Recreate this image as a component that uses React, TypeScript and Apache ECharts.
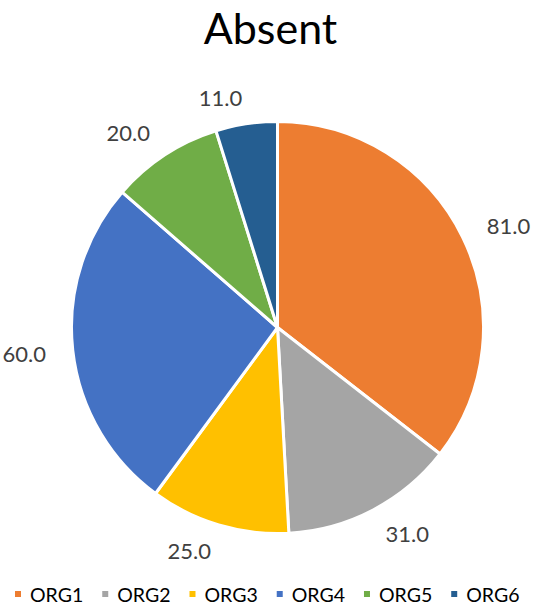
import React, { useEffect, useRef } from "react";
import * as echarts from "echarts";

const titleText = "Absent";
const categories = ["ORG1", "ORG2", "ORG3", "ORG4", "ORG5", "ORG6"];
const values = [81, 31, 25, 60, 20, 11];
const colors = ["#ED7D31", "#A5A5A5", "#FFC000", "#4472C4", "#70AD47", "#255E91"];

export default function App() {
  const ref = useRef<HTMLDivElement>(null);
  useEffect(() => {
    if (!ref.current) return;
    const chart = echarts.init(ref.current, null, { renderer: "svg" });
    const font = "Lato, 'Noto Sans', sans-serif";
    const data = categories.map((name, i) => ({
      name,
      value: values[i],
      itemStyle: { color: colors[i] },
    }));
    chart.setOption({
      animation: false,
      backgroundColor: "#ffffff",
      title: {
        text: titleText,
        left: "center",
        top: 1,
        textStyle: { fontFamily: font, fontSize: 43, fontWeight: "normal", color: "#000000" },
      },
      legend: {
        data: categories,
        left: 8,
        top: 579,
        width: 535,
        icon: "rect",
        itemWidth: 8,
        itemHeight: 8,
        itemGap: 17,
        textStyle: { fontFamily: font, fontSize: 19.5, color: "#000000", padding: [0, 0, 0, 3] },
      },
      series: [
        {
          type: "pie",
          center: [277.5, 327.5],
          radius: 206,
          startAngle: 90,
          clockwise: true,
          silent: true,
          avoidLabelOverlap: false,
          itemStyle: { borderColor: "#ffffff", borderWidth: 3 },
          label: {
            show: true,
            position: "outside",
            distanceToLabelLine: 0,
            fontFamily: font,
            fontSize: 22,
            color: "#404040",
            formatter: (p: any) => Number(p.value).toFixed(1),
          },
          labelLine: { show: false, length: 27, length2: 0 },
          emphasis: { disabled: true },
          data,
        },
      ],
    });
    return () => chart.dispose();
  }, []);
  return (
    <div
      ref={ref}
      style={{ position: "absolute", left: 0, top: 0, width: 541, height: 608 }}
    />
  );
}
